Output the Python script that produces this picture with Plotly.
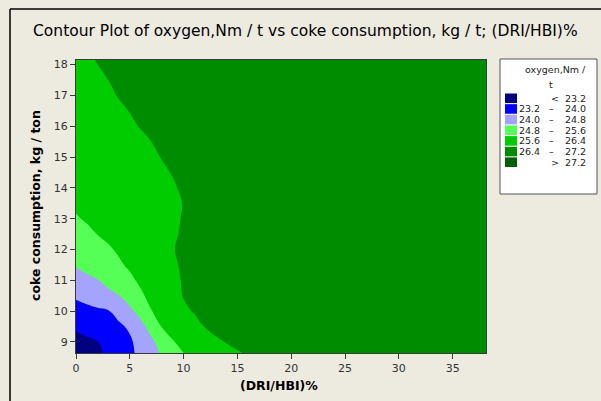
import plotly.graph_objects as go

# (DRI/HBI)% along x, coke consumption (kg/ton) along y
dri_pct = [0, 1, 2, 3, 4, 5, 6, 7, 8, 9, 10, 11, 12, 14, 16, 20, 25, 30, 38.1]
coke_kg = [8.64, 9, 9.5, 10, 10.5, 11, 11.5, 12, 12.5, 13, 13.5, 14, 15, 16, 17, 18.15]

# oxygen, Nm/t — one row per coke value, one column per DRI/HBI value
oxygen = [
    [22.65, 22.86, 23.08, 23.32, 23.59, 23.86, 24.18, 24.55, 24.90, 25.25, 25.60, 25.76, 25.92, 26.24, 26.46, 26.70, 26.85, 26.90, 26.95],
    [22.92, 23.05, 23.18, 23.40, 23.65, 23.90, 24.25, 24.66, 25.10, 25.56, 25.77, 25.96, 26.14, 26.43, 26.54, 26.75, 26.88, 26.92, 26.96],
    [23.33, 23.47, 23.61, 23.75, 23.89, 24.10, 24.56, 25.10, 25.64, 25.85, 26.06, 26.27, 26.42, 26.51, 26.61, 26.80, 26.90, 26.94, 26.97],
    [23.71, 23.79, 23.88, 23.96, 24.23, 24.63, 25.09, 25.58, 25.84, 26.08, 26.33, 26.43, 26.48, 26.57, 26.66, 26.85, 26.92, 26.95, 26.97],
    [24.10, 24.27, 24.45, 24.62, 24.79, 25.14, 25.50, 25.77, 26.01, 26.25, 26.42, 26.46, 26.50, 26.59, 26.68, 26.85, 26.92, 26.95, 26.97],
    [24.50, 24.63, 24.77, 24.99, 25.23, 25.48, 25.71, 25.91, 26.12, 26.32, 26.43, 26.47, 26.51, 26.60, 26.69, 26.86, 26.92, 26.95, 26.97],
    [24.86, 25.03, 25.19, 25.36, 25.52, 25.69, 25.86, 26.03, 26.20, 26.37, 26.43, 26.48, 26.52, 26.61, 26.70, 26.87, 26.92, 26.95, 26.97],
    [25.09, 25.24, 25.38, 25.53, 25.68, 25.82, 25.96, 26.11, 26.25, 26.39, 26.44, 26.48, 26.53, 26.61, 26.70, 26.87, 26.92, 26.95, 26.97],
    [25.32, 25.47, 25.61, 25.72, 25.83, 25.94, 26.04, 26.15, 26.26, 26.37, 26.43, 26.47, 26.52, 26.61, 26.70, 26.87, 26.92, 26.95, 26.97],
    [25.55, 25.66, 25.74, 25.83, 25.92, 26.00, 26.09, 26.18, 26.26, 26.35, 26.42, 26.46, 26.51, 26.60, 26.68, 26.86, 26.92, 26.95, 26.97],
    [25.70, 25.77, 25.84, 25.91, 25.98, 26.06, 26.13, 26.20, 26.27, 26.34, 26.41, 26.45, 26.50, 26.59, 26.68, 26.86, 26.92, 26.95, 26.97],
    [25.85, 25.91, 25.97, 26.03, 26.08, 26.14, 26.20, 26.26, 26.32, 26.38, 26.43, 26.47, 26.51, 26.60, 26.69, 26.86, 26.92, 26.95, 26.97],
    [26.02, 26.07, 26.12, 26.16, 26.21, 26.26, 26.31, 26.36, 26.41, 26.44, 26.48, 26.51, 26.55, 26.63, 26.71, 26.86, 26.92, 26.95, 26.97],
    [26.15, 26.19, 26.24, 26.28, 26.33, 26.37, 26.41, 26.44, 26.48, 26.51, 26.54, 26.57, 26.60, 26.67, 26.73, 26.86, 26.92, 26.95, 26.97],
    [26.25, 26.29, 26.33, 26.37, 26.41, 26.44, 26.46, 26.49, 26.52, 26.55, 26.57, 26.60, 26.63, 26.69, 26.74, 26.86, 26.92, 26.95, 26.97],
    [26.33, 26.37, 26.41, 26.44, 26.46, 26.49, 26.52, 26.54, 26.57, 26.59, 26.62, 26.64, 26.67, 26.72, 26.77, 26.87, 26.92, 26.95, 26.97],
]

levels = [23.2, 24.0, 24.8, 25.6, 26.4, 27.2]
band_colors = ["#000080", "#0000FF", "#A4A4FF", "#55FF55", "#00CC00", "#008C00", "#006000"]

x_ticks = [0, 5, 10, 15, 20, 25, 30, 35]
y_ticks = [9, 10, 11, 12, 13, 14, 15, 16, 17, 18]

W, H = 601, 401
ML, MR, MT, MB = 76, 115, 60, 48
PW, PH = W - ML - MR, H - MT - MB
BG = "#EDEAE0"
FONT = "DejaVu Sans"


def px(xp):
    return (xp - ML) / PW


def py(yp):
    return (H - MB - yp) / PH


# stepped colour scale: one flat colour per band between contour levels
n = len(band_colors)
colorscale = []
for k, c in enumerate(band_colors):
    lo = max(0.0, (k - 0.5) / (n - 1))
    hi = min(1.0, (k + 0.5) / (n - 1))
    colorscale.append([lo, c])
    colorscale.append([hi, c])

fig = go.Figure()
fig.add_trace(go.Contour(
    x=dri_pct, y=coke_kg, z=oxygen,
    autocontour=False,
    contours=dict(start=levels[0], end=levels[-1], size=levels[1] - levels[0],
                  coloring="fill", showlines=False),
    line=dict(width=0, smoothing=1.3),
    colorscale=colorscale,
    showscale=False,
    hoverinfo="skip",
))

axis_common = dict(
    showgrid=False, zeroline=False, showline=True, linecolor="#3A3A3A", linewidth=1,
    mirror=True, ticks="outside", ticklen=5, tickcolor="#3A3A3A",
    tickfont=dict(family=FONT, size=11, color="#333333"),
)
fig.update_xaxes(range=[0, 38.1], tickvals=x_ticks, **axis_common)
fig.update_yaxes(range=[8.64, 18.15], tickvals=y_ticks, **axis_common)

shapes = []
annotations = []

# outer black frame (top and left edges)
shapes.append(dict(type="line", xref="paper", yref="paper",
                   x0=px(10), x1=px(W + 2), y0=py(9), y1=py(9),
                   line=dict(color="black", width=1.5)))
shapes.append(dict(type="line", xref="paper", yref="paper",
                   x0=px(10), x1=px(10), y0=py(9), y1=py(H + 2),
                   line=dict(color="black", width=1.5)))

# title and axis titles
annotations.append(dict(text="Contour Plot of oxygen,Nm / t vs coke consumption, kg / t; (DRI/HBI)%",
                        xref="paper", yref="paper", x=px(305), y=py(31),
                        xanchor="center", yanchor="middle", showarrow=False,
                        font=dict(family=FONT, size=15.5, color="black")))
annotations.append(dict(text="<b>(DRI/HBI)%</b>", xref="paper", yref="paper",
                        x=px(279), y=py(385), xanchor="center", yanchor="middle",
                        showarrow=False, font=dict(family=FONT, size=12.5, color="black")))
annotations.append(dict(text="<b>coke consumption, kg / ton</b>", xref="paper", yref="paper",
                        x=px(35), y=py(206), xanchor="center", yanchor="middle", textangle=-90,
                        showarrow=False, font=dict(family=FONT, size=12.5, color="black")))

# legend box
shapes.append(dict(type="rect", xref="paper", yref="paper",
                   x0=px(500), x1=px(597), y0=py(59), y1=py(194),
                   fillcolor="white", line=dict(color="#555555", width=1)))
lf = dict(family=FONT, size=9.5, color="#222222")
annotations.append(dict(text="oxygen,Nm /", xref="paper", yref="paper", x=px(588), y=py(70),
                        xanchor="right", yanchor="middle", showarrow=False, font=lf))
annotations.append(dict(text="t", xref="paper", yref="paper", x=px(551), y=py(84),
                        xanchor="center", yanchor="middle", showarrow=False, font=lf))

row0, step = 98.3, 10.65
for i, c in enumerate(band_colors):
    yc = row0 + step * i
    shapes.append(dict(type="rect", xref="paper", yref="paper",
                       x0=px(505), x1=px(517), y0=py(yc - 4.8), y1=py(yc + 4.8),
                       fillcolor=c, line=dict(width=0)))
    if i == 0:
        parts = [("<", 555, "center"), (f"{levels[0]:.1f}", 588, "right")]
    elif i == n - 1:
        parts = [(">", 555, "center"), (f"{levels[-1]:.1f}", 588, "right")]
    else:
        parts = [(f"{levels[i - 1]:.1f}", 542, "right"), ("\u2013", 551, "center"),
                 (f"{levels[i]:.1f}", 588, "right")]
    for txt, xx, anc in parts:
        annotations.append(dict(text=txt, xref="paper", yref="paper", x=px(xx), y=py(yc),
                                xanchor=anc, yanchor="middle", showarrow=False, font=lf))

fig.update_layout(
    width=W, height=H,
    margin=dict(l=ML, r=MR, t=MT, b=MB),
    paper_bgcolor=BG, plot_bgcolor=BG,
    showlegend=False,
    shapes=shapes,
    annotations=annotations,
)

fig.write_html("out.html")
